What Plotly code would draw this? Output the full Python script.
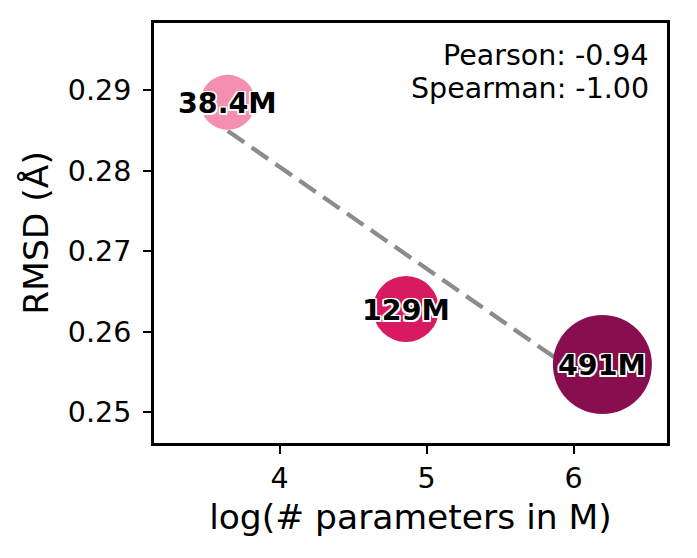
import numpy as np
import plotly.graph_objects as go

# ---- data ----
param_labels = ["38.4M", "129M", "491M"]
params_m = [38.4, 129.0, 491.0]
rmsd = [0.2885, 0.2628, 0.2559]
x_ticks = [4, 5, 6]
y_ticks = [0.25, 0.26, 0.27, 0.28, 0.29]
stats_text = ["Pearson: -0.94", "Spearman: -1.00"]

# ---- styles ----
marker_colors = ["#F48FB1", "#D81B60", "#880E4F"]
marker_sizes = [55, 66, 99]
FONT = "DejaVu Sans"
TICK_SIZE = 28.5
TITLE_SIZE = 34.5

logx = np.log(np.array(params_m))
y = np.array(rmsd)
slope, intercept = np.polyfit(logx, y, 1)
line_x = np.array([logx.min(), logx.max()])
line_y = slope * line_x + intercept

fig = go.Figure()
fig.add_trace(go.Scatter(
    x=line_x, y=line_y, mode="lines",
    line=dict(color="#8c8c8c", width=4.3, dash="20px,9px"),
    showlegend=False, hoverinfo="skip"))
fig.add_trace(go.Scatter(
    x=logx, y=y, mode="markers",
    marker=dict(size=marker_sizes, color=marker_colors, opacity=1,
                line=dict(width=0)),
    showlegend=False))

shadow = ", ".join(f"{dx}px {dy}px 0 #fff" for dx, dy in
                   [(-1.5, -1.5), (1.5, -1.5), (-1.5, 1.5), (1.5, 1.5),
                    (0, 1.5), (0, -1.5), (1.5, 0), (-1.5, 0)])
for lx, ly, lab in zip(logx, y, param_labels):
    fig.add_annotation(x=lx, y=ly, xref="x", yref="y", text=lab,
                       showarrow=False, xanchor="center", yanchor="middle",
                       yshift=-1,
                       font=dict(family=FONT, size=TICK_SIZE, color="black",
                                 weight="bold", shadow=shadow))

# page body has an 8px margin; compensate so plot area sits where the reference has it
W, H = 689, 550
L, T = 146, 12
PW, PH = 513, 423
R = W - L - PW
B = H - T - PH

fig.add_annotation(x=(651 - 154) / PW, y=(443 - 53) / PH, xref="paper", yref="paper",
                   text=stats_text[0], showarrow=False, xanchor="right",
                   yanchor="middle", font=dict(family=FONT, size=TICK_SIZE, color="black"))
fig.add_annotation(x=(651 - 154) / PW, y=(443 - 86) / PH, xref="paper", yref="paper",
                   text=stats_text[1], showarrow=False, xanchor="right",
                   yanchor="middle", font=dict(family=FONT, size=TICK_SIZE, color="black"))

axis_common = dict(showgrid=False, zeroline=False, showline=True, mirror=True,
                   linecolor="black", linewidth=3, ticks="outside", ticklen=8,
                   tickwidth=2, tickcolor="black",
                   tickfont=dict(family=FONT, size=TICK_SIZE, color="black"))
fig.update_xaxes(range=[3.146, 6.636], tickvals=x_ticks,
                 title=dict(text="log(# parameters in M)",
                            font=dict(family=FONT, size=TITLE_SIZE, color="black"),
                            standoff=11),
                 **axis_common)
fig.update_yaxes(range=[0.24614, 0.29836], tickvals=y_ticks, tickformat=".2f",
                 ticklabelstandoff=6,
                 title=dict(text="RMSD (Å)",
                            font=dict(family=FONT, size=TITLE_SIZE, color="black"),
                            standoff=9),
                 **axis_common)
fig.update_layout(width=W, height=H, margin=dict(l=L, r=R, t=T, b=B),
                  plot_bgcolor="white", paper_bgcolor="white")
fig.write_html("out.html")
